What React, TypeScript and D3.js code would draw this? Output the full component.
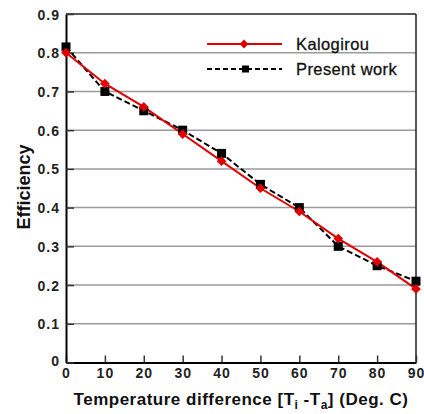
import { useEffect, useRef } from 'react';
import * as d3 from 'd3';

const temps = [0, 10, 20, 30, 40, 50, 60, 70, 80, 90];
const kalogirou = [0.8, 0.72, 0.66, 0.59, 0.52, 0.45, 0.39, 0.32, 0.26, 0.19];
const presentWork = [0.815, 0.7, 0.65, 0.6, 0.54, 0.46, 0.4, 0.3, 0.25, 0.21];
const xTicks = [0, 10, 20, 30, 40, 50, 60, 70, 80, 90];
const yTicks = [0, 0.1, 0.2, 0.3, 0.4, 0.5, 0.6, 0.7, 0.8, 0.9];

const width = 424;
const height = 414;
const margin = { top: 14, right: 8, bottom: 51.5, left: 66 };

const App = () => {
  const svgRef = useRef<SVGSVGElement | null>(null);

  useEffect(() => {
    const svg = d3.select(svgRef.current);
    svg.selectAll('*').remove();

    const innerWidth = width - margin.left - margin.right;
    const innerHeight = height - margin.top - margin.bottom;
    const font = 'Arial, "Liberation Sans", sans-serif';

    const x = d3.scaleLinear().domain([0, 90]).range([0, innerWidth]);
    const y = d3.scaleLinear().domain([0, 0.9]).range([innerHeight, 0]);

    const g = svg.append('g').attr('transform', `translate(${margin.left},${margin.top})`);

    // gridlines
    g.selectAll('.grid')
      .data(yTicks.filter(t => t > 0 && t < 0.9))
      .enter()
      .append('line')
      .attr('x1', 0)
      .attr('x2', innerWidth)
      .attr('y1', d => y(d))
      .attr('y2', d => y(d))
      .attr('stroke', '#9a9a9a')
      .attr('stroke-width', 1.5);

    // frame: top and right thin
    g.append('line').attr('x1', 0).attr('x2', innerWidth).attr('y1', 0).attr('y2', 0)
      .attr('stroke', '#222').attr('stroke-width', 1.5);
    g.append('line').attr('x1', innerWidth).attr('x2', innerWidth).attr('y1', 0).attr('y2', innerHeight)
      .attr('stroke', '#222').attr('stroke-width', 1.5);

    // axes
    const xAxis = g.append('g')
      .attr('transform', `translate(0,${innerHeight})`)
      .call(d3.axisBottom(x).tickValues(xTicks).tickSizeInner(-7).tickSizeOuter(0).tickPadding(5.5).tickFormat(d3.format('d')));
    const yAxis = g.append('g')
      .call(d3.axisLeft(y).tickValues(yTicks).tickSizeInner(-8).tickSizeOuter(0).tickPadding(6).tickFormat(d => (d === 0 ? '0' : d3.format('.1f')(d as number))));

    [xAxis, yAxis].forEach(a => {
      a.select('.domain').attr('stroke', '#000').attr('stroke-width', 2);
      a.selectAll('.tick line').attr('stroke', '#333').attr('stroke-width', 1.5);
      a.selectAll('.tick text')
        .attr('fill', '#222')
        .style('font-family', font)
        .style('font-weight', 'bold')
        .style('font-size', '14px')
        .style('letter-spacing', '1px');
    });
    yAxis.selectAll('.tick text').attr('dy', '0.36em');
    yAxis.selectAll('.tick').filter(d => d === 0).select('text').attr('dy', '0.18em');

    const pts = (vals: number[]) => temps.map((t, i) => [x(t), y(vals[i])] as [number, number]);
    const line = d3.line();

    // Present work
    g.append('path')
      .attr('d', line(pts(presentWork)))
      .attr('fill', 'none')
      .attr('stroke', '#000')
      .attr('stroke-width', 2)
      .attr('stroke-dasharray', '6,3');

    // Kalogirou
    g.append('path')
      .attr('d', line(pts(kalogirou)))
      .attr('fill', 'none')
      .attr('stroke', '#e00000')
      .attr('stroke-width', 2);

    const diamond = d3.symbol().type(d3.symbolDiamond2).size(60);
    const square = d3.symbol().type(d3.symbolSquare).size(81);

    g.selectAll('.sq')
      .data(pts(presentWork))
      .enter()
      .append('path')
      .attr('d', square())
      .attr('transform', d => `translate(${d[0]},${d[1]})`)
      .attr('fill', '#000');

    g.selectAll('.dm')
      .data(pts(kalogirou))
      .enter()
      .append('path')
      .attr('d', diamond())
      .attr('transform', d => `translate(${d[0]},${d[1]})`)
      .attr('fill', '#e00000');

    // legend
    const lg = svg.append('g');
    lg.append('line').attr('x1', 207).attr('x2', 282).attr('y1', 44).attr('y2', 44)
      .attr('stroke', '#e00000').attr('stroke-width', 2);
    lg.append('path').attr('d', d3.symbol().type(d3.symbolDiamond2).size(50)()).attr('transform', 'translate(244,44)').attr('fill', '#e00000');
    lg.append('line').attr('x1', 207).attr('x2', 282).attr('y1', 69).attr('y2', 69)
      .attr('stroke', '#000').attr('stroke-width', 2).attr('stroke-dasharray', '5,3');
    lg.append('rect').attr('x', 242).attr('y', 65.5).attr('width', 7).attr('height', 7).attr('fill', '#000');
    lg.append('text').attr('x', 296).attr('y', 50).text('Kalogirou')
      .attr('fill', '#111').attr('stroke', '#111').attr('stroke-width', 0.3)
      .style('font-family', font).style('font-size', '16.5px').style('letter-spacing', '0.4px');
    lg.append('text').attr('x', 296).attr('y', 75).text('Present work')
      .attr('fill', '#111').attr('stroke', '#111').attr('stroke-width', 0.3)
      .style('font-family', font).style('font-size', '16.5px').style('letter-spacing', '0.4px');

    // axis titles
    const xt = svg.append('text')
      .attr('x', 241)
      .attr('y', 405)
      .attr('text-anchor', 'middle')
      .attr('fill', '#111')
      .style('font-family', font)
      .style('font-weight', 'bold')
      .style('font-size', '17px')
      .style('letter-spacing', '0.5px');
    xt.append('tspan').text('Temperature difference [T');
    xt.append('tspan').text('i').attr('dy', 4).style('font-size', '12px');
    xt.append('tspan').text(' -T').attr('dy', -4);
    xt.append('tspan').text('a').attr('dy', 4).style('font-size', '12px');
    xt.append('tspan').text('] (Deg. C)').attr('dy', -4);

    svg.append('text')
      .attr('transform', 'translate(30,187) rotate(-90)')
      .attr('text-anchor', 'middle')
      .attr('fill', '#111')
      .style('font-family', font)
      .style('font-weight', 'bold')
      .style('font-size', '18px')
      .text('Efficiency');
  }, []);

  return (
    <div style={{ position: 'absolute', left: 0, top: 0, background: '#fff' }}>
      <svg ref={svgRef} width={width} height={height} style={{ display: 'block' }}></svg>
    </div>
  );
};

export default App;
